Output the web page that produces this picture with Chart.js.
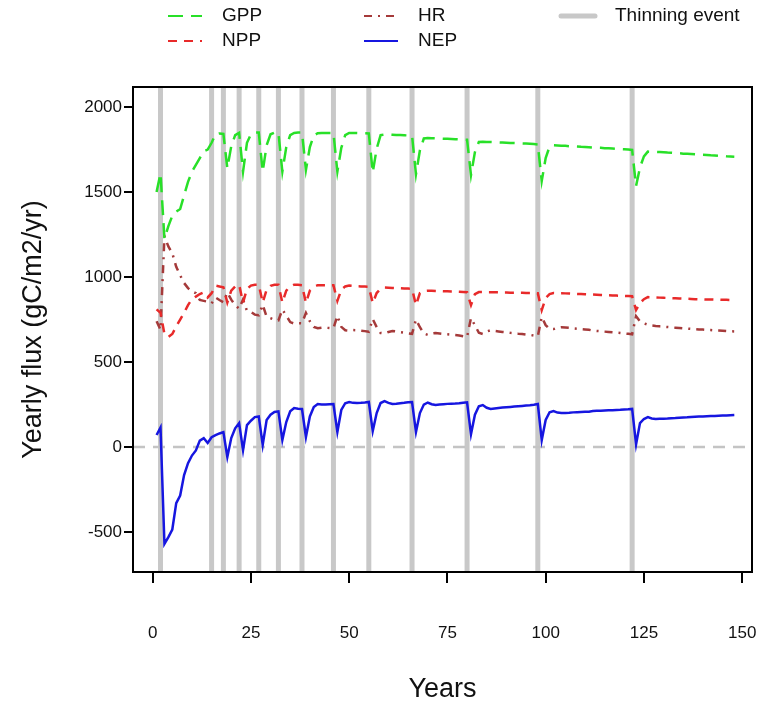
<!DOCTYPE html>
<html>
<head>
<meta charset="utf-8">
<script src="https://cdn.jsdelivr.net/npm/chart.js@4/dist/chart.umd.min.js"></script>
<style>
  html, body { margin: 0; padding: 0; background: #ffffff; }
  #wrap { width: 765px; height: 708px; }
</style>
</head>
<body>
<div id="wrap"><canvas id="chart" width="765" height="708"></canvas></div>
<script>
// Simulated stand: yearly carbon fluxes (gC/m2/yr), years 1..148
const firstYear = 1;
const gpp = [
  1500, 1610, 1225, 1300, 1360, 1385, 1400, 1480, 1560, 1620,
  1660, 1700, 1740, 1750, 1790, 1840, 1845, 1842, 1640, 1770,
  1835, 1848, 1620, 1790, 1840, 1850, 1850, 1620, 1775, 1840,
  1850, 1850, 1620, 1765, 1835, 1848, 1850, 1850, 1630, 1765,
  1832, 1846, 1848, 1848, 1848, 1848, 1620, 1760, 1835, 1848,
  1848, 1847, 1846, 1846, 1845, 1615, 1755, 1835, 1838, 1838,
  1837, 1836, 1835, 1834, 1833, 1832, 1605, 1745, 1815, 1818,
  1817, 1816, 1815, 1814, 1813, 1812, 1811, 1810, 1809, 1808,
  1600, 1735, 1795, 1796, 1795, 1794, 1793, 1792, 1791, 1790,
  1789, 1788, 1787, 1786, 1785, 1784, 1782, 1780, 1565, 1700,
  1768, 1775, 1774, 1773, 1772, 1770, 1769, 1768, 1766, 1765,
  1764, 1762, 1761, 1760, 1758, 1757, 1756, 1754, 1753, 1752,
  1750, 1748, 1535, 1645, 1710, 1738, 1737, 1736, 1735, 1734,
  1732, 1731, 1729, 1728, 1726, 1725, 1724, 1722, 1721, 1719,
  1718, 1716, 1715, 1713, 1712, 1710, 1709, 1708
];
const npp = [
  810, 790, 665, 648, 665, 710, 750, 790, 835, 870,
  885, 900, 910, 880, 905, 950, 945, 940, 850, 920,
  945, 955, 850, 930, 950, 955, 955, 850, 925, 948,
  955, 955, 850, 920, 945, 955, 955, 952, 848, 920,
  942, 952, 952, 952, 952, 952, 860, 925, 945, 950,
  948, 946, 945, 944, 943, 847, 906, 930, 938, 937,
  936, 935, 934, 933, 932, 931, 835, 905, 918, 920,
  919, 918, 917, 916, 916, 915, 914, 913, 912, 911,
  835, 900, 912, 912, 911, 911, 910, 910, 909, 909,
  908, 908, 907, 907, 906, 906, 905, 905, 806, 876,
  900, 906, 905, 905, 904, 903, 902, 901, 900, 899,
  898, 897, 896, 895, 894, 893, 892, 891, 890, 889,
  888, 887, 806, 847, 870, 882, 881, 880, 879, 878,
  877, 876, 875, 874, 873, 872, 871, 870, 869, 869,
  868, 868, 867, 867, 866, 866, 865, 865
];
const hr = [
  740, 690, 1240, 1180, 1140, 1060, 1010, 965, 935, 915,
  905, 865, 860, 855, 845, 880, 865, 852, 909, 867,
  835, 814, 868, 801, 795, 779, 775, 838, 766, 758,
  749, 745, 809, 773, 735, 726, 729, 728, 789, 740,
  707, 699, 702, 702, 700, 699, 772, 707, 687, 685,
  688, 687, 685, 682, 678, 753, 706, 671, 668, 677,
  683, 680, 676, 673, 669, 666, 750, 705, 668, 660,
  668, 671, 668, 665, 663, 661, 659, 656, 652, 648,
  759, 716, 672, 665, 680, 687, 683, 680, 677, 675,
  672, 670, 667, 665, 662, 660, 656, 652, 765, 717,
  695, 694, 702, 705, 703, 701, 698, 696, 694, 692,
  690, 685, 683, 681, 679, 677, 675, 673, 671, 668,
  666, 663, 770, 740, 728, 720, 715, 712, 710, 708,
  706, 704, 702, 700, 698, 697, 695, 694, 692, 691,
  689, 688, 686, 685, 684, 682, 681, 680
];
const nep = [
  71, 115, -570, -530, -485, -330, -285, -165, -95, -50,
  -20, 38, 52, 24, 58, 70, 80, 88, -59, 53,
  110, 141, -18, 129, 155, 176, 180, 12, 159, 190,
  206, 210, 41, 147, 210, 229, 226, 224, 59, 180,
  235, 253, 250, 250, 252, 253, 88, 218, 258, 265,
  260, 259, 260, 262, 265, 94, 200, 259, 270, 260,
  253, 255, 258, 260, 263, 265, 88, 200, 250, 262,
  252, 247, 250, 252, 254, 255, 256, 258, 261, 263,
  76, 190, 240, 247, 231, 224, 227, 230, 232, 234,
  236, 238, 240, 242, 244, 246, 249, 253, 41, 159,
  205, 212, 203, 200, 201, 202, 204, 205, 206, 207,
  208, 212, 213, 214, 215, 216, 217, 218, 219, 221,
  222, 224, 15, 141, 165, 176, 168, 165, 166, 167,
  168, 170, 171, 173, 174, 175, 177, 178, 179, 180,
  181, 182, 183, 184, 185, 186, 187, 188
];
const thinningYears = [2, 15, 18, 22, 27, 32, 38, 46, 55, 66, 80, 98, 122];
const xTickValues = [0, 25, 50, 75, 100, 125, 150];
const yTickValues = [-500, 0, 500, 1000, 1500, 2000];

const years = gpp.map((_, i) => firstYear + i);
const toPoints = arr => arr.map((v, i) => ({ x: years[i], y: v }));

const FONT = '"Liberation Sans", Arial, Helvetica, sans-serif';
const COLORS = {
  gpp: '#28e028', npp: '#e82a2a', hr: '#a53a3a', nep: '#1616e0',
  thin: '#c8c8c8', zero: '#c4c4c4'
};
const DASH = { gpp: [15, 8], npp: [9, 7], hr: [8, 6, 2, 6], nep: [] };

const datasets = [
  { label: 'GPP', data: toPoints(gpp), borderColor: COLORS.gpp, borderDash: DASH.gpp },
  { label: 'NPP', data: toPoints(npp), borderColor: COLORS.npp, borderDash: DASH.npp },
  { label: 'HR',  data: toPoints(hr),  borderColor: COLORS.hr,  borderDash: DASH.hr },
  { label: 'NEP', data: toPoints(nep), borderColor: COLORS.nep, borderDash: DASH.nep }
].map(d => Object.assign({ borderWidth: 2.5, pointRadius: 0, fill: false, tension: 0 }, d));

// Background guides: thinning events and the zero line, drawn under the series
const guides = {
  id: 'guides',
  beforeDatasetsDraw(chart) {
    const { ctx, chartArea: a, scales: { x, y } } = chart;
    ctx.save();
    ctx.beginPath();
    ctx.rect(a.left, a.top, a.right - a.left, a.bottom - a.top);
    ctx.clip();
    ctx.strokeStyle = COLORS.thin;
    ctx.lineWidth = 5;
    thinningYears.forEach(t => {
      const px = x.getPixelForValue(t);
      ctx.beginPath();
      ctx.moveTo(px, a.top);
      ctx.lineTo(px, a.bottom);
      ctx.stroke();
    });
    const py = y.getPixelForValue(0);
    ctx.strokeStyle = COLORS.zero;
    ctx.lineWidth = 2.5;
    ctx.setLineDash([12, 8]);
    ctx.beginPath();
    ctx.moveTo(a.left, py);
    ctx.lineTo(a.right, py);
    ctx.stroke();
    ctx.restore();
  }
};

// Plot frame and the two-row legend above it
const frameAndLegend = {
  id: 'frameAndLegend',
  afterDraw(chart) {
    const { ctx, chartArea: a } = chart;
    ctx.save();
    ctx.strokeStyle = '#000';
    ctx.lineWidth = 2;
    ctx.setLineDash([]);
    ctx.strokeRect(a.left, a.top, a.right - a.left, a.bottom - a.top);

    const items = [
      { text: 'GPP', color: COLORS.gpp, dash: DASH.gpp, width: 2.2, col: 0, row: 0 },
      { text: 'NPP', color: COLORS.npp, dash: DASH.npp, width: 2.2, col: 0, row: 1 },
      { text: 'HR', color: COLORS.hr, dash: DASH.hr, width: 2.2, col: 1, row: 0 },
      { text: 'NEP', color: COLORS.nep, dash: DASH.nep, width: 2.2, col: 1, row: 1 },
      { text: 'Thinning event', color: COLORS.thin, dash: [], width: 5, col: 2, row: 0 }
    ];
    const textX = [222, 418, 615];
    const rowY = [16, 41];
    ctx.font = '19px ' + FONT;
    ctx.textBaseline = 'middle';
    ctx.textAlign = 'left';
    items.forEach(it => {
      const tx = textX[it.col], ty = rowY[it.row];
      ctx.strokeStyle = it.color;
      ctx.lineWidth = it.width;
      ctx.setLineDash(it.dash);
      ctx.lineCap = it.width > 3 ? 'round' : 'butt';
      ctx.beginPath();
      ctx.moveTo(tx - 54, ty);
      ctx.lineTo(tx - 20, ty);
      ctx.stroke();
      ctx.fillStyle = '#111';
      ctx.fillText(it.text, tx, ty);
    });
    ctx.restore();
  }
};

new Chart(document.getElementById('chart'), {
  type: 'line',
  data: { datasets },
  options: {
    responsive: false,
    animation: false,
    devicePixelRatio: 1,
    layout: { padding: { top: 87, right: 13, left: 0, bottom: 0 } },
    plugins: { legend: { display: false }, tooltip: { enabled: false } },
    elements: { point: { radius: 0 } },
    scales: {
      x: {
        type: 'linear',
        min: -5,
        max: 152.5,
        afterBuildTicks: s => { s.ticks = xTickValues.map(v => ({ value: v })); },
        afterFit: s => { s.height = 136; s.paddingLeft = 0; s.paddingRight = 0; },
        grid: { drawOnChartArea: false, drawTicks: true, tickLength: 11, color: '#000', lineWidth: 2 },
        border: { display: false },
        ticks: { font: { family: FONT, size: 17 }, color: '#111', padding: 40, maxRotation: 0, callback: v => String(v) },
        title: { display: true, text: 'Years', font: { family: FONT, size: 27 }, color: '#111', padding: { top: 0, bottom: 2 } }
      },
      y: {
        type: 'linear',
        min: -735,
        max: 2118,
        afterBuildTicks: s => { s.ticks = yTickValues.map(v => ({ value: v })); },
        afterFit: s => { s.width = 133; s.paddingTop = 0; s.paddingBottom = 0; },
        grid: { drawOnChartArea: false, drawTicks: true, tickLength: 9, color: '#000', lineWidth: 2 },
        border: { display: false },
        ticks: { font: { family: FONT, size: 17 }, color: '#111', padding: 2, callback: v => String(v) },
        title: { display: true, text: 'Yearly flux (gC/m2/yr)', font: { family: FONT, size: 27 }, color: '#111', padding: { top: 17, bottom: 0 } }
      }
    }
  },
  plugins: [guides, frameAndLegend]
});
</script>
</body>
</html>
